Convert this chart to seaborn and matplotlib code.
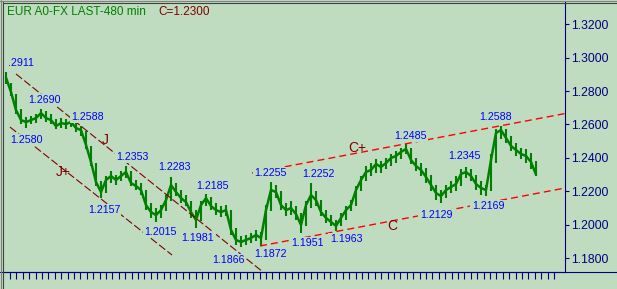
import numpy as np
import pandas as pd
import matplotlib
matplotlib.use("Agg")
import matplotlib.pyplot as plt
from matplotlib.lines import Line2D
from matplotlib.ticker import FixedLocator, FormatStrFormatter
import seaborn as sns

# ---------------- data ----------------
close = [1.2880, 1.2794, 1.2686, 1.2626, 1.2614, 1.2626, 1.2638, 1.2668, 1.2638, 1.2626,
         1.2590, 1.2608, 1.2602, 1.2614, 1.2578, 1.2566, 1.2477, 1.2375, 1.2255, 1.2195,
         1.2267, 1.2291, 1.2267, 1.2291, 1.2315, 1.2249, 1.2231, 1.2207, 1.2117, 1.2075,
         1.2057, 1.2087, 1.2147, 1.2237, 1.2195, 1.2159, 1.2135, 1.2075, 1.2028, 1.2117,
         1.2159, 1.2111, 1.2087, 1.2075, 1.2087, 1.1968, 1.1908, 1.1896, 1.1908, 1.1920,
         1.1938, 1.1920, 1.2087, 1.2207, 1.2195, 1.2117, 1.2087, 1.2099, 1.2063, 1.1998,
         1.2117, 1.2177, 1.2147, 1.2075, 1.2040, 1.2016, 1.1992, 1.2040, 1.2087, 1.2117,
         1.2207, 1.2267, 1.2315, 1.2327, 1.2363, 1.2345, 1.2369, 1.2399, 1.2411, 1.2435,
         1.2453, 1.2387, 1.2351, 1.2327, 1.2285, 1.2237, 1.2189, 1.2171, 1.2207, 1.2225,
         1.2243, 1.2303, 1.2315, 1.2291, 1.2243, 1.2219, 1.2207, 1.2387, 1.2549, 1.2566,
         1.2519, 1.2471, 1.2447, 1.2423, 1.2411, 1.2375, 1.2300]
high = [1.2911, 1.2850, 1.2780, 1.2690, 1.2645, 1.2650, 1.2665, 1.2690, 1.2680, 1.2660,
        1.2630, 1.2640, 1.2635, 1.2650, 1.2620, 1.2588, 1.2560, 1.2470, 1.2370, 1.2260,
        1.2290, 1.2320, 1.2300, 1.2320, 1.2353, 1.2320, 1.2270, 1.2250, 1.2210, 1.2130,
        1.2100, 1.2120, 1.2180, 1.2283, 1.2250, 1.2210, 1.2180, 1.2140, 1.2090, 1.2140,
        1.2185, 1.2165, 1.2130, 1.2110, 1.2120, 1.2090, 1.1980, 1.1930, 1.1935, 1.1950,
        1.1965, 1.1955, 1.2120, 1.2255, 1.2240, 1.2200, 1.2130, 1.2140, 1.2110, 1.2070,
        1.2140, 1.2252, 1.2200, 1.2150, 1.2090, 1.2060, 1.2030, 1.2070, 1.2110, 1.2150,
        1.2230, 1.2290, 1.2350, 1.2370, 1.2390, 1.2380, 1.2400, 1.2420, 1.2440, 1.2460,
        1.2485, 1.2460, 1.2400, 1.2370, 1.2340, 1.2300, 1.2240, 1.2210, 1.2240, 1.2260,
        1.2290, 1.2330, 1.2345, 1.2330, 1.2300, 1.2260, 1.2240, 1.2420, 1.2570, 1.2588,
        1.2570, 1.2530, 1.2490, 1.2460, 1.2450, 1.2430, 1.2380]
low = [1.2840, 1.2770, 1.2660, 1.2600, 1.2580, 1.2600, 1.2610, 1.2630, 1.2615, 1.2600,
       1.2570, 1.2580, 1.2575, 1.2585, 1.2555, 1.2530, 1.2450, 1.2350, 1.2230, 1.2157,
       1.2190, 1.2250, 1.2240, 1.2260, 1.2280, 1.2230, 1.2205, 1.2180, 1.2090, 1.2040,
       1.2015, 1.2040, 1.2080, 1.2140, 1.2170, 1.2130, 1.2110, 1.2040, 1.1981, 1.2020,
       1.2110, 1.2090, 1.2060, 1.2045, 1.2050, 1.1940, 1.1880, 1.1866, 1.1880, 1.1890,
       1.1900, 1.1872, 1.1910, 1.2080, 1.2160, 1.2090, 1.2050, 1.2060, 1.2030, 1.1951,
       1.1990, 1.2100, 1.2110, 1.2050, 1.2010, 1.1990, 1.1963, 1.1990, 1.2030, 1.2080,
       1.2110, 1.2200, 1.2260, 1.2290, 1.2310, 1.2310, 1.2330, 1.2350, 1.2370, 1.2390,
       1.2420, 1.2360, 1.2320, 1.2290, 1.2250, 1.2200, 1.2150, 1.2129, 1.2160, 1.2190,
       1.2200, 1.2230, 1.2280, 1.2260, 1.2210, 1.2180, 1.2169, 1.2200, 1.2370, 1.2510,
       1.2490, 1.2440, 1.2410, 1.2390, 1.2370, 1.2330, 1.2290]

# price annotations: text, bar position, price position
label_text = [".2911", "1.2690", "1.2588", "1.2580", "1.2353", "1.2283", "1.2185",
              "1.2157", "1.2015", "1.1981", "1.1866", "1.1872", "1.2255", "1.2252",
              "1.1951", "1.1963", "1.2485", "1.2345", "1.2129", "1.2169", "1.2588"]
label_x = [2.9, 7.6, 16.4, 4.0, 25.2, 33.6, 41.2, 19.6, 30.8, 38.4, 44.4, 52.8,
           52.8, 62.4, 60.2, 68.0, 80.8, 91.6, 86.0, 96.4, 98.0]
label_y = [1.2965, 1.2746, 1.2644, 1.2507, 1.2405, 1.2345, 1.2231, 1.2087, 1.1956,
           1.1920, 1.1788, 1.1824, 1.2309, 1.2303, 1.1890, 1.1914, 1.2531, 1.2411,
           1.2057, 1.2111, 1.2644]

# wave marks
wave_text = ["J", "J+", "C+", "C"]
wave_x = [19.8, 11.4, 70.2, 77.2]
wave_y = [1.2507, 1.2315, 1.2459, 1.1992]

# trend lines (bar position, price)
down_upper_x = [2.0, 51.4]
down_upper_y = [1.2902, 1.1716]
down_lower_x = [0.8, 33.2]
down_lower_y = [1.2584, 1.1818]
chan_top_x = [49.2, 111.8]
chan_top_y = [1.2309, 1.2665]
chan_bot_x = [50.8, 111.8]
chan_bot_y = [1.1872, 1.2219]

yticks = [1.18, 1.20, 1.22, 1.24, 1.26, 1.28, 1.30, 1.32]

title_text = "EUR A0-FX LAST-480 min"
last_text = "C=1.2300"

# ---------------- style ----------------
bg = "#C0DCC0"
navy = "#000080"
green = "#008000"
darkred = "#800000"
blue = "#0000FF"

sns.set_theme(style="white")
plt.rcParams["font.family"] = ["Liberation Sans", "DejaVu Sans"]

W, H = 617, 289
fig = plt.figure(figsize=(W / 100, H / 100), dpi=100, facecolor=bg)
ax = fig.add_axes([4 / W, 17 / H, 561 / W, 270 / H])
ax.set_facecolor(bg)

df = pd.DataFrame({"bar": np.arange(len(close)), "close": close,
                   "high": high, "low": low})

ax.vlines(df["bar"], df["low"], df["high"], color=green, lw=1.5, zorder=2)
sns.lineplot(data=df, x="bar", y="close", ax=ax, color=green, lw=1.8,
             zorder=2, legend=False)

ax.plot(down_upper_x, down_upper_y, color=darkred, lw=0.8, dashes=(7, 2.5), zorder=3)
ax.plot(down_lower_x, down_lower_y, color=darkred, lw=0.8, dashes=(7, 2.5), zorder=3)
ax.plot(chan_top_x, chan_top_y, color="#FF0000", lw=1.0, dashes=(5, 3), zorder=3)
ax.plot(chan_bot_x, chan_bot_y, color="#FF0000", lw=1.0, dashes=(5, 3), zorder=3)

for t, x, y in zip(label_text, label_x, label_y):
    ax.text(x, y, t, color=blue, fontsize=7.7, ha="center", va="center", zorder=4,
            bbox=dict(boxstyle="square,pad=0.12", fc=bg, ec="none"))
for t, x, y in zip(wave_text, wave_x, wave_y):
    ax.text(x, y, t, color=darkred, fontsize=10, ha="center", va="center", zorder=4,
            fontweight="light")

ax.set_xlim(-0.4, 111.8)
ax.set_ylim(1.17162, 1.3333)
ax.set_xlabel("")
ax.set_ylabel("")

for s in ["top", "left"]:
    ax.spines[s].set_visible(False)
for s in ["right", "bottom"]:
    ax.spines[s].set_color(navy)
    ax.spines[s].set_linewidth(0.8)

ax.yaxis.tick_right()
ax.set_yticks(yticks)
ax.yaxis.set_major_formatter(FormatStrFormatter("%.4f"))
ax.tick_params(axis="y", direction="out", length=3, width=0.8, colors=navy,
               labelsize=8.7, pad=1.5, right=True, left=False)
ax.xaxis.set_major_locator(FixedLocator(np.arange(0.8, 110.3, 1.28)))
ax.tick_params(axis="x", direction="out", length=5, width=0.8, color=navy,
               labelbottom=False, bottom=True)

# bottom line across the whole width, window frame
fig.add_artist(Line2D([0, 1], [17 / H, 17 / H], transform=fig.transFigure,
                      color=navy, lw=0.8))
fig.add_artist(Line2D([0.5 / W, 0.5 / W], [0, 1], transform=fig.transFigure,
                      color="#808080", lw=0.8))
fig.add_artist(Line2D([2.5 / W, 2.5 / W], [0, 1 - 2 / H], transform=fig.transFigure,
                      color="#404040", lw=0.8))
fig.add_artist(Line2D([0, 1], [1 - 0.5 / H, 1 - 0.5 / H], transform=fig.transFigure,
                      color="#808080", lw=0.8))
fig.add_artist(Line2D([2.5 / W, 1], [1 - 2.5 / H, 1 - 2.5 / H], transform=fig.transFigure,
                      color="#404040", lw=0.8))

fig.text(7 / W, 1 - 12 / H, title_text, color=green, fontsize=8.5, va="center", ha="left")
fig.text(158 / W, 1 - 12 / H, last_text, color=darkred, fontsize=8.5, va="center", ha="left")

fig.savefig("out.png", dpi=100, facecolor=bg)
